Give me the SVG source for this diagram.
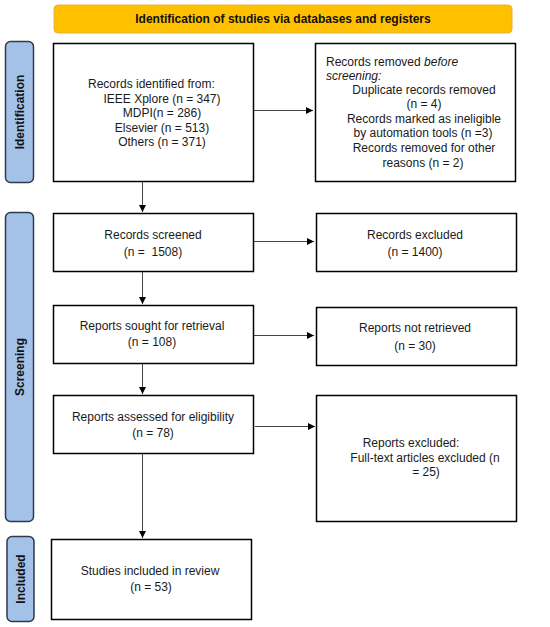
<svg xmlns="http://www.w3.org/2000/svg" width="550" height="627" viewBox="0 0 550 627">
<defs>
<marker id="ah" markerWidth="8" markerHeight="8" refX="7" refY="4" orient="auto" markerUnits="userSpaceOnUse">
<path d="M0,0.5 L7,4 L0,7.5 Z" fill="#000"/>
</marker>
<style>
.box{fill:#fff;stroke:#000;stroke-width:1.5}
.side{fill:#a4c2e8;stroke:#2e3b48;stroke-width:1.5}
.t{font-family:"Liberation Sans",Arial,sans-serif;font-size:12px;fill:#1a1a1a}
.c{text-anchor:middle}
.b{font-family:"Liberation Sans",Arial,sans-serif;font-size:12px;font-weight:bold;fill:#111;text-anchor:middle}
.conn{stroke:#444;stroke-width:1;fill:none;marker-end:url(#ah)}
</style>
</defs>
<g id="banner">
<rect x="54" y="5" width="458" height="28" rx="4" fill="#ffc000" stroke="#e8b13a" stroke-width="1"/>
<text class="b" x="283" y="23">Identification of studies via databases and registers</text>
</g>
<g id="side-identification">
<rect class="side" x="5.5" y="41.5" width="28" height="141" rx="5"/>
<text class="b" transform="translate(23.5,112) rotate(-90)">Identification</text>
</g>
<g id="side-screening">
<rect class="side" x="5.5" y="212.5" width="28" height="309" rx="5"/>
<text class="b" transform="translate(23.5,367) rotate(-90)">Screening</text>
</g>
<g id="side-included">
<rect class="side" x="7" y="536.5" width="27" height="85" rx="5"/>
<text class="b" transform="translate(24.5,579) rotate(-90)">Included</text>
</g>
<g id="n-identified">
<rect class="box" x="53.5" y="43.5" width="200" height="138"/>
<text class="t" x="88" y="88">Records identified from:</text>
<text class="t c" x="162" y="103">IEEE Xplore (n = 347)</text>
<text class="t c" x="162" y="117">MDPI(n = 286)</text>
<text class="t c" x="162" y="132">Elsevier (n = 513)</text>
<text class="t c" x="162" y="146">Others (n = 371)</text>
</g>
<g id="n-removed">
<rect class="box" x="315.5" y="43.5" width="200" height="138"/>
<text class="t" x="326" y="66">Records removed <tspan font-style="italic">before</tspan></text>
<text class="t" x="326" y="80" font-style="italic">screening:</text>
<text class="t c" x="424" y="94">Duplicate records removed</text>
<text class="t c" x="424" y="108">(n = 4)</text>
<text class="t c" x="424" y="123">Records marked as ineligible</text>
<text class="t c" x="423" y="137">by automation tools (n =3)</text>
<text class="t c" x="424" y="152">Records removed for other</text>
<text class="t c" x="423" y="167">reasons (n = 2)</text>
</g>
<g id="n-screened">
<rect class="box" x="53.5" y="213.5" width="200" height="58"/>
<text class="t c" x="153" y="239">Records screened</text>
<text class="t c" x="153" y="256" xml:space="preserve">(n =  1508)</text>
</g>
<g id="n-excluded">
<rect class="box" x="316.5" y="213.5" width="200" height="58"/>
<text class="t c" x="415" y="239">Records excluded</text>
<text class="t c" x="415" y="256">(n = 1400)</text>
</g>
<g id="n-sought">
<rect class="box" x="53.5" y="305.5" width="200" height="58"/>
<text class="t c" x="152" y="330">Reports sought for retrieval</text>
<text class="t c" x="152" y="346">(n = 108)</text>
</g>
<g id="n-notretrieved">
<rect class="box" x="316.5" y="307.5" width="200" height="58"/>
<text class="t c" x="415" y="332">Reports not retrieved</text>
<text class="t c" x="415" y="350">(n = 30)</text>
</g>
<g id="n-assessed">
<rect class="box" x="53.5" y="395.5" width="200" height="58"/>
<text class="t c" x="153" y="421">Reports assessed for eligibility</text>
<text class="t c" x="153" y="437">(n = 78)</text>
</g>
<g id="n-reportsexcluded">
<rect class="box" x="316.5" y="395.5" width="200" height="126"/>
<text class="t c" x="411" y="447">Reports excluded:</text>
<text class="t c" x="425" y="462">Full-text articles excluded (n</text>
<text class="t c" x="426" y="476">= 25)</text>
</g>
<g id="n-included">
<rect class="box" x="51.5" y="539.5" width="200" height="80"/>
<text class="t c" x="150" y="575">Studies included in review</text>
<text class="t c" x="151" y="591">(n = 53)</text>
</g>
<g id="connectors">
<path class="conn" d="M254,110.5 H313"/>
<path class="conn" d="M142.5,182 V212"/>
<path class="conn" d="M254,241.5 H314"/>
<path class="conn" d="M142.5,272 V304"/>
<path class="conn" d="M254,335.5 H314"/>
<path class="conn" d="M142.5,364 V394"/>
<path class="conn" d="M255,426.5 H315"/>
<path class="conn" d="M142.5,454 V538"/>
</g>
</svg>
